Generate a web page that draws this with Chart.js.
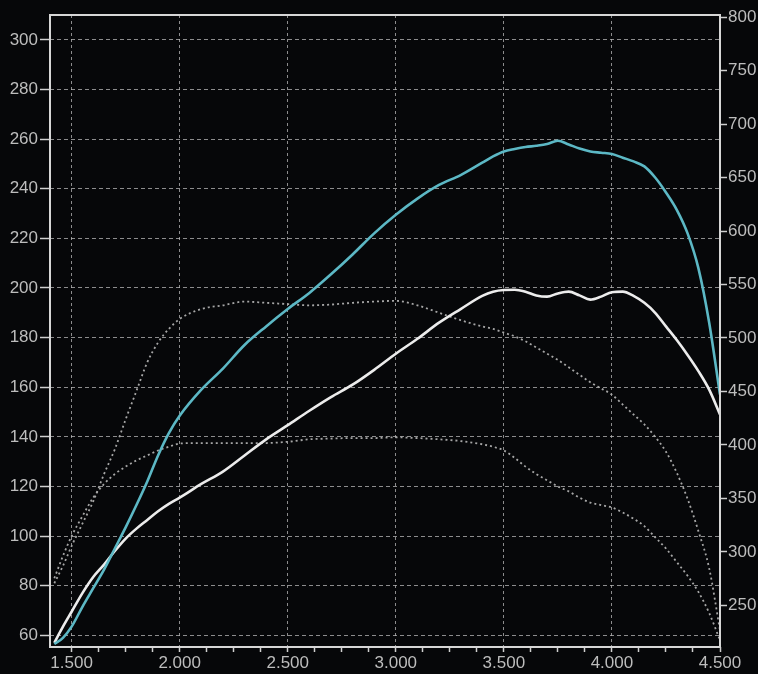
<!DOCTYPE html>
<html>
<head>
<meta charset="utf-8">
<title>Dyno</title>
<script src="https://cdn.jsdelivr.net/npm/chart.js@4"></script>
<style>
  html, body { margin: 0; padding: 0; background: #060709; }
  #wrap { width: 758px; height: 674px; position: relative; }
</style>
</head>
<body>
<div id="wrap"><canvas id="dyno"></canvas></div>
<script>
// engine speed (rpm) shared by all four runs
const rpm = [1420,1460,1500,1550,1600,1650,1700,1750,1800,1850,1900,1950,2000,
  2100,2200,2300,2400,2500,2600,2700,2800,2900,3000,3100,3200,3300,3400,
  3450,3500,3550,3600,3650,3700,3750,3800,3850,3900,3950,4000,4050,4100,4150,4200,4250,4300,4350,4400,4450,4500];

// tuned runs (solid)
const tunedCyan = [56.5,59,63.5,71.5,79,86.5,95,103.5,112.5,122,132.5,141.5,148.5,
  159,167.5,177,184.5,191.5,198,205.5,213.5,222,229.5,236,241.5,245.5,250.5,
  253,255,256,256.8,257.3,258,259.3,257.8,256.2,255,254.5,254,252.5,251,249,244.5,238.5,231.5,222,208,186,157];
const tunedWhite = [57,63.5,69.5,77,83.5,88.5,94,99,103,106.5,110,113,115.5,
  121,126,132.5,139,144.7,150.5,156,161,167,173.5,179.5,186,191.5,196.8,
  198.5,199.2,199.3,198.5,197,196.5,197.8,198.5,197,195.3,196.5,198.3,198.5,196.8,194,190,184.5,179,173,166.5,159,149];

// stock runs (dotted)
const stockUpper = [81,88,96,105,114,125,135,147,158.5,170,178,183.5,187.5,
  191.5,193,194.5,194,193.5,193,193.3,194,194.5,194.8,193,190,187,184.5,
  183.5,182,180.5,178.5,176,173.5,171,168,165,162,159.5,157,153,149,145,140,134,125.5,115,102,87,62];
const stockLower = [83,92,100,108,115.5,121,125,128,130.5,132.5,134.5,136,137.3,
  137.5,137.5,137.5,137.5,138,139,139.3,139.5,139.5,139.8,139.5,139,138.3,137,
  136,134.5,131.5,128,125,122.5,120,118,115.5,113.5,112.5,111.5,109.5,107,104,99.5,95,89.5,84,77.5,69,58];

// axis ticks
const leftTicks = [60,80,100,120,140,160,180,200,220,240,260,280,300];
const rightTicks = [250,300,350,400,450,500,550,600,650,700,750,800];
const rpmMajor = [1500,2000,2500,3000,3500,4000,4500];
const rpmMinorStep = 125;

const pts = arr => rpm.map((r, i) => ({ x: r, y: arr[i] }));
const fmtRpm = v => Math.floor(v / 1000) + "." + String(v % 1000).padStart(3, "0");

const FONT = { family: "'Liberation Sans Narrow','Liberation Sans',Arial,sans-serif", size: 17 };
const TXT = "#bdbdbd";
const GRID = "rgba(185,185,185,0.75)";
const TICK = "#cfcfcf";

// light frame round the plot area
const frame = {
  id: "frame",
  afterDraw(chart) {
    const a = chart.chartArea, ctx = chart.ctx;
    ctx.save();
    ctx.strokeStyle = "#d6d6d6";
    ctx.lineWidth = 2;
    ctx.strokeRect(a.left, a.top, a.right - a.left, a.bottom - a.top);
    ctx.restore();
  }
};

const solid = (arr, color) => ({
  data: pts(arr), borderColor: color, borderWidth: 2.6,
  pointRadius: 0, tension: 0.3, cubicInterpolationMode: "monotone", yAxisID: "y"
});
const dotted = arr => ({
  data: pts(arr), borderColor: "#a6a6a6", borderWidth: 1.8, borderDash: [2, 3],
  pointRadius: 0, tension: 0.3, cubicInterpolationMode: "monotone", yAxisID: "y"
});

new Chart(document.getElementById("dyno"), {
  type: "line",
  data: {
    datasets: [
      solid(tunedCyan, "#5cb8c5"),
      solid(tunedWhite, "#ececec"),
      dotted(stockUpper),
      dotted(stockLower)
    ]
  },
  options: {
    responsive: true,
    maintainAspectRatio: false,
    animation: false,
    layout: { padding: { top: 15, left: 0, right: 0, bottom: 0 } },
    plugins: { legend: { display: false }, tooltip: { enabled: false } },
    scales: {
      x: {
        type: "linear", min: 1400, max: 4500,
        afterBuildTicks: s => {
          const t = [];
          for (let v = rpmMajor[0]; v <= rpmMajor[rpmMajor.length - 1]; v += rpmMinorStep) t.push({ value: v });
          s.ticks = t;
        },
        afterFit: s => { s.height = 27; },
        ticks: {
          autoSkip: false, maxRotation: 0, padding: 1, color: TXT, font: FONT,
          callback: v => rpmMajor.includes(v) ? fmtRpm(v) : ""
        },
        grid: {
          color: c => (c.tick && rpmMajor.includes(c.tick.value) && c.tick.value < 4500) ? GRID : "rgba(0,0,0,0)",
          lineWidth: 1, tickLength: 5, tickWidth: 1.5, tickColor: TICK
        },
        border: { display: false, dash: [3, 3] }
      },
      y: {
        position: "left", min: 55.3, max: 310,
        afterBuildTicks: s => { s.ticks = leftTicks.map(v => ({ value: v })); },
        afterFit: s => { s.width = 50; },
        ticks: { padding: 2, color: TXT, font: FONT },
        grid: { color: GRID, lineWidth: 1, tickLength: 10, tickWidth: 1.5, tickColor: TICK },
        border: { display: false, dash: [4, 3] }
      },
      y2: {
        position: "right", min: 211, max: 802,
        afterBuildTicks: s => { s.ticks = rightTicks.map(v => ({ value: v })); },
        afterFit: s => { s.width = 38; },
        ticks: { padding: 1, color: TXT, font: FONT },
        grid: { drawOnChartArea: false, tickLength: 7, tickWidth: 1.5, tickColor: TICK },
        border: { display: false }
      }
    }
  },
  plugins: [frame]
});
</script>
</body>
</html>
